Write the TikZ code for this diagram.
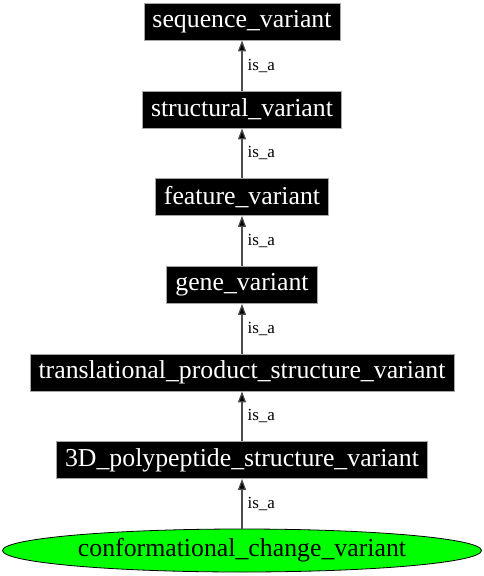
\documentclass[tikz,border=0pt]{standalone}
\usepackage{fontspec}
\setmainfont{Liberation Serif}
\usetikzlibrary{arrows.meta,shapes.geometric}
\begin{document}
\begin{tikzpicture}[x=1pt,y=-1pt,
  termbox/.style={rectangle, fill=black, draw=gray!70, line width=0.8pt, text=white,
    font=\fontsize{25.8}{28}\selectfont, inner xsep=8.5pt, inner ysep=0pt, minimum height=37pt},
  leaf/.style={ellipse, fill=green, draw=black, line width=0.8pt, text=black,
    font=\fontsize{25.8}{28}\selectfont, minimum width=479pt, minimum height=43pt, inner sep=0pt},
  isa/.style={draw=black!70, line width=1.2pt, -{Triangle[length=11pt,width=8pt,fill=black]}},
  lbl/.style={font=\fontsize{17}{19}\selectfont, text=black, anchor=west, inner sep=0pt, xshift=5pt}
]
\useasboundingbox (0,0) rectangle (484,576);
\node[termbox] (seq) at (242,21.5) {sequence\_variant};
\node[termbox] (str) at (242,109.5) {structural\_variant};
\node[termbox] (fea) at (242,197) {feature\_variant};
\node[termbox] (gen) at (242,285) {gene\_variant};
\node[termbox] (tps) at (242,372.5) {translational\_product\_structure\_variant};
\node[termbox] (tdp) at (242,460) {3D\_polypeptide\_structure\_variant};
\node[leaf] (con) at (242,550.5) {conformational\_change\_variant};
\draw[isa] (str.north) -- node[lbl, midway] {is\_a} (seq.south);
\draw[isa] (fea.north) -- node[lbl, midway] {is\_a} (str.south);
\draw[isa] (gen.north) -- node[lbl, midway] {is\_a} (fea.south);
\draw[isa] (tps.north) -- node[lbl, midway] {is\_a} (gen.south);
\draw[isa] (tdp.north) -- node[lbl, midway] {is\_a} (tps.south);
\draw[isa] (con.north) -- node[lbl, midway] {is\_a} (tdp.south);
\end{tikzpicture}
\end{document}
